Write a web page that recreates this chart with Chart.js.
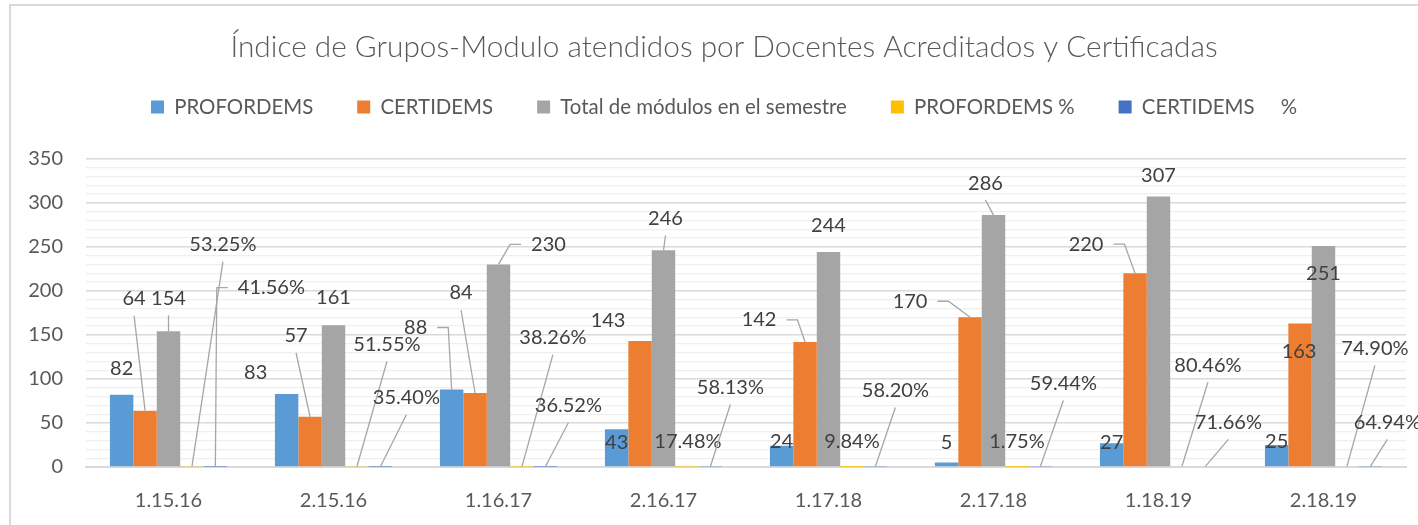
<!DOCTYPE html>
<html>
<head>
<meta charset="utf-8">
<script src="https://cdn.jsdelivr.net/npm/chart.js@4.4.1/dist/chart.umd.min.js"></script>
<style>
  html, body { margin: 0; padding: 0; background: #fff; overflow: hidden; }
</style>
</head>
<body>
<canvas id="chart" width="1450" height="525"></canvas>
<script>
const semesters = ['1.15.16', '2.15.16', '1.16.17', '2.16.17', '1.17.18', '2.17.18', '1.18.19', '2.18.19'];
const profordems = [82, 83, 88, 43, 24, 5, 27, 25];
const certidems = [64, 57, 84, 143, 142, 170, 220, 163];
const totalModules = [154, 161, 230, 246, 244, 286, 307, 251];
const profordemsPct = [0.5325, 0.5155, 0.3826, 0.1748, 0.0984, 0.0175, 0.8046, 0.7490];
const certidemsPct = [0.4156, 0.3540, 0.3652, 0.5813, 0.5820, 0.5944, 0.7166, 0.6494];

// where each data label sits relative to its bar top: [dx, dy, leader]
// leader: 0 none, 1 line from under the label, 2 line from the label's side
const labelNudge = [
    [[0, -26, 0], [-31, -21, 0], [-36, -62, 2], [0, 13, 0], [0, -4, 0], [0, -20, 0], [0, -1, 0], [0, -3, 0]],
    [[-11, -112, 1], [-14, -81, 1], [-14, -100, 1], [-32, -20, 0], [-46, -22, 2], [-60, -16, 2], [-49, -29, 2], [-1, 28, 0]],
    [[0, -33, 1], [0, -28, 0], [50, -20, 2], [2, -32, 1], [0, -27, 0], [-8, -32, 1], [0, -21, 0], [0, 28, 0]],
    [[31, -222, 1], [30, -122, 1], [31, -129, 1], [1, -25, 0], [0, -25, 0], [0, -25, 0], [26, -101, 1], [28, -118, 1]],
    [[56, -179, 2], [26, -69, 1], [23, -61, 1], [20, -79, 1], [20, -76, 1], [23, -83, 1], [23, -44, 1], [17, -44, 1]]
];

const FONT = 'Lato, "Open Sans", sans-serif';

const frame = {
    id: 'frame',
    beforeDraw(chart) {
        const ctx = chart.ctx;
        ctx.save();
        ctx.fillStyle = '#fff';
        ctx.fillRect(0, 0, chart.width, chart.height);
        ctx.strokeStyle = '#D9D9D9';
        ctx.lineWidth = 2;
        ctx.beginPath();
        ctx.moveTo(10, chart.height);
        ctx.lineTo(10, 5);
        ctx.lineTo(chart.width, 5);
        ctx.stroke();
        ctx.restore();
    }
};

const barLabels = {
    id: 'barLabels',
    afterDatasetsDraw(chart) {
        const ctx = chart.ctx;
        ctx.save();
        ctx.font = '20px ' + FONT;
        ctx.textAlign = 'center';
        ctx.textBaseline = 'middle';
        chart.data.datasets.forEach((ds, d) => {
            const meta = chart.getDatasetMeta(d);
            meta.data.forEach((bar, j) => {
                const v = ds.data[j];
                const text = d >= 3 ? (v * 100).toFixed(2) + '%' : String(v);
                const [dx, dy, leader] = labelNudge[d][j];
                const lx = bar.x + dx, ly = bar.y + dy;

                ctx.strokeStyle = '#A6A6A6';
                ctx.lineWidth = 1.3;
                if (leader === 1) {
                    ctx.beginPath();
                    ctx.moveTo(lx, ly + 17);
                    ctx.lineTo(bar.x, bar.y);
                    ctx.stroke();
                } else if (leader === 2) {
                    const w = ctx.measureText(text).width;
                    const side = dx < 0 ? 1 : -1;
                    const sx = lx + side * (w / 2 + 10);
                    ctx.beginPath();
                    ctx.moveTo(sx, ly);
                    ctx.lineTo(sx + side * 11, ly);
                    ctx.lineTo(bar.x, bar.y);
                    ctx.stroke();
                }
                ctx.fillStyle = '#404040';
                ctx.fillText(text, lx, ly);
            });
        });
        ctx.restore();
    }
};

new Chart(document.getElementById('chart'), {
    type: 'bar',
    data: {
        labels: semesters,
        datasets: [
            { label: 'PROFORDEMS', data: profordems, backgroundColor: '#5B9BD5' },
            { label: 'CERTIDEMS', data: certidems, backgroundColor: '#ED7D31' },
            { label: 'Total de módulos en el semestre', data: totalModules, backgroundColor: '#A5A5A5' },
            { label: 'PROFORDEMS %', data: profordemsPct, backgroundColor: '#FFC000' },
            { label: 'CERTIDEMS     %', data: certidemsPct, backgroundColor: '#4472C4' }
        ]
    },
    options: {
        responsive: false,
        animation: false,
        layout: { padding: { left: 10, right: 12, top: 0, bottom: 8 } },
        datasets: {
            bar: { categoryPercentage: 0.71, barPercentage: 1.0 }
        },
        plugins: {
            title: {
                display: true,
                text: 'Índice de Grupos-Modulo atendidos por Docentes Acreditados y Certificadas',
                color: '#595959',
                font: { family: FONT, size: 29.8, weight: '300', lineHeight: 0.4 },
                padding: { top: 41, bottom: 0 }
            },
            subtitle: {
                display: true,
                text: '',
                weight: 500,
                font: { size: 1, lineHeight: 1 },
                padding: { top: 30.4, bottom: 0 }
            },
            legend: {
                labels: {
                    color: '#595959',
                    font: { family: FONT, size: 20.4 },
                    boxWidth: 13,
                    boxHeight: 13,
                    padding: 44
                }
            },
            tooltip: { enabled: false }
        },
        scales: {
            x: {
                afterFit(scale) { scale.height = 50; },
                grid: { display: false },
                border: { color: '#D9D9D9', width: 2 },
                ticks: {
                    color: '#595959',
                    font: { family: FONT, size: 20 },
                    padding: 14,
                    maxRotation: 0
                }
            },
            y: {
                min: 0,
                max: 350,
                afterFit(scale) { scale.width = 76; },
                border: { display: false },
                grid: {
                    drawTicks: false,
                    color: (c) => c.tick && c.tick.value % 50 === 0 ? '#D9D9D9' : '#EFEFEF',
                    lineWidth: (c) => c.tick && c.tick.value % 50 === 0 ? 1.6 : 1.2
                },
                ticks: {
                    stepSize: 10,
                    autoSkip: false,
                    padding: 23,
                    color: '#595959',
                    font: { family: FONT, size: 20 },
                    callback: (v) => v % 50 === 0 ? v : ''
                }
            },
            // empty right-hand strip: the original chart runs past the picture's right edge
            spacer: {
                type: 'linear',
                position: 'right',
                afterFit(scale) { scale.width = 32; },
                grid: { display: false },
                border: { display: false },
                ticks: { display: false }
            }
        }
    },
    plugins: [frame, barLabels]
});
</script>
</body>
</html>
